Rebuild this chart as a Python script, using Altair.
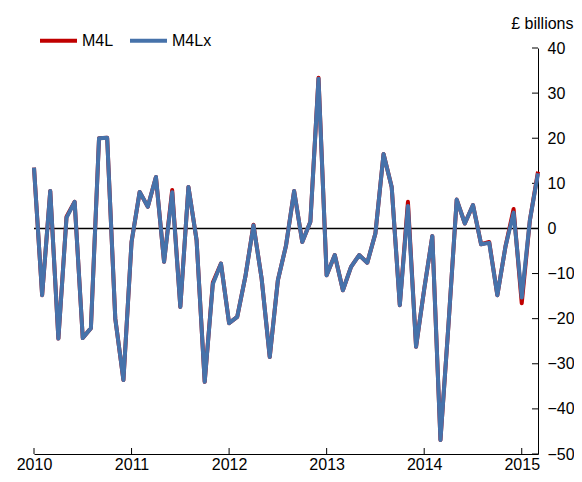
import altair as alt
import pandas as pd

months = list(range(63))

m4lx = [13.5, -14.8, 8.3, -24.4, 2.4, 5.9, -24.3, -22.1, 20.0, 20.1, -20.0, -33.6,
        -3.0, 8.1, 4.8, 11.4, -7.4, 8.0, -17.4, 9.2, -2.6, -34.0, -12.3, -7.8,
        -21.0, -19.6, -10.7, 0.7, -11.1, -28.5, -11.5, -3.8, 8.3, -3.0, 1.5, 33.2,
        -10.4, -5.9, -13.7, -8.5, -5.9, -7.6, -1.1, 16.5, 9.2, -17.0, 5.0, -26.2,
        -13.5, -1.7, -46.9, -21.0, 6.4, 1.1, 5.2, -3.5, -3.2, -14.8, -4.0, 3.5,
        -15.3, 1.8, 12.2]

m4l = [13.5, -14.8, 8.3, -24.4, 2.6, 5.9, -24.3, -22.1, 20.0, 20.1, -20.0, -33.6,
       -3.0, 8.1, 4.8, 11.4, -7.4, 8.5, -17.4, 9.2, -2.6, -34.0, -12.0, -7.8,
       -21.0, -19.6, -10.7, 0.8, -11.1, -28.5, -11.5, -3.8, 8.3, -3.0, 1.5, 33.4,
       -10.4, -5.9, -13.7, -8.5, -5.9, -7.6, -1.1, 16.5, 9.2, -17.0, 5.9, -26.2,
       -13.5, -1.7, -46.9, -21.0, 6.4, 1.1, 5.2, -3.5, -3.0, -14.8, -4.0, 4.3,
       -16.6, 1.8, 12.6]

series_names = ["M4L", "M4Lx"]
series_colors = ["#C00000", "#4672AA"]
year_ticks = [0, 12, 24, 36, 48, 60]
year_labels = ["2010", "2011", "2012", "2013", "2014", "2015"]
y_ticks = [-50, -40, -30, -20, -10, 0, 10, 20, 30, 40]

df = pd.DataFrame({
    "month": months * 2,
    "value": m4l + m4lx,
    "series": [series_names[0]] * len(m4l) + [series_names[1]] * len(m4lx),
})
xt = pd.DataFrame({"month": year_ticks})
yt = pd.DataFrame({"value": y_ticks})
zero = pd.DataFrame({"value": [0]})

W, H = 504, 406
FONT = "Liberation Sans"
FS = 16
x_scale = alt.Scale(domain=[0, 62], nice=False, zero=False)
y_scale = alt.Scale(domain=[-50, 40], nice=False)

label_expr = "[" + ",".join("'%s'" % s for s in year_labels) + "][datum.value/12]"

lines = alt.Chart(df).mark_line(strokeWidth=4, strokeJoin="round").encode(
    x=alt.X("month:Q", scale=x_scale,
            axis=alt.Axis(values=year_ticks, labelExpr=label_expr, tickSize=0,
                          grid=False, title=None, labelFontSize=FS, labelPadding=15,
                          labelBaseline="alphabetic", labelFlush=False,
                          labelColor="black", domainColor="black", labelFont=FONT)),
    y=alt.Y("value:Q", scale=y_scale,
            axis=alt.Axis(orient="right", values=y_ticks, tickSize=0, grid=False,
                          labelFontSize=FS, labelPadding=9, labelColor="black",
                          domainColor="black", labelFont=FONT, labelFlush=False,
                          title="£ billions", titleAngle=0, titleAlign="right",
                          titleBaseline="alphabetic", titleX=35, titleY=-20,
                          titleFont=FONT, titleFontSize=FS, titleFontWeight="normal",
                          titleColor="black")),
    color=alt.Color("series:N",
                    scale=alt.Scale(domain=series_names, range=series_colors),
                    legend=alt.Legend(orient="none", legendX=4, legendY=-28,
                                      direction="horizontal", title=None,
                                      symbolType="stroke", symbolStrokeWidth=4,
                                      symbolSize=1369, labelFontSize=FS,
                                      labelFont=FONT, labelColor="black",
                                      columnPadding=8, labelOffset=3)),
    order=alt.Order("series:N"),
)

zero_line = alt.Chart(zero).mark_rule(color="black", strokeWidth=1.5).encode(
    y=alt.Y("value:Q", scale=y_scale))

x_ticks = alt.Chart(xt).mark_rule(color="black", strokeWidth=1).encode(
    x=alt.X("month:Q", scale=x_scale), y=alt.value(H - 6), y2=alt.value(H))

y_tick_marks = alt.Chart(yt).mark_rule(color="black", strokeWidth=1).encode(
    y=alt.Y("value:Q", scale=y_scale), x=alt.value(W - 6), x2=alt.value(W))

chart = alt.layer(zero_line, x_ticks, y_tick_marks, lines).properties(
    width=W, height=H,
    autosize=alt.AutoSizeParams(type="none"),
    padding={"left": 26, "top": 40, "right": 36, "bottom": 20},
).configure(background="white").configure_view(stroke=None)

chart.save("out.html", embed_options={"renderer": "svg", "actions": False})
